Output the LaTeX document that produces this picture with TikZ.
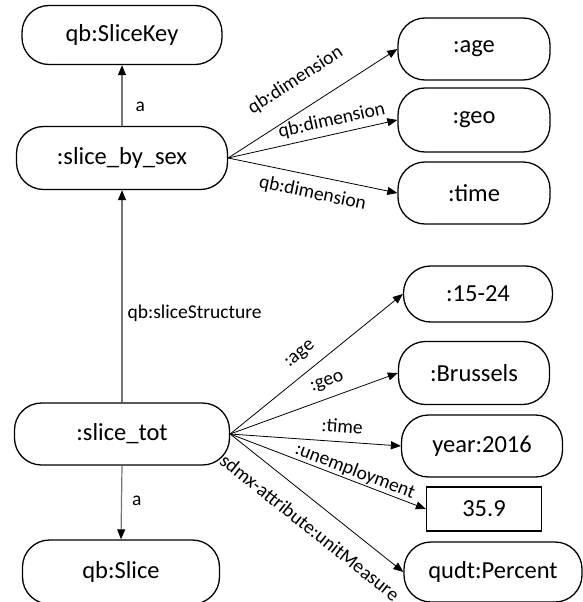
\documentclass[tikz,border=0pt]{standalone}
\usepackage{fontspec}
\setmainfont{Carlito}
\usetikzlibrary{arrows.meta}
\begin{document}
\begin{tikzpicture}[x=1pt,y=-1pt,
  ent/.style={draw, line width=1.3pt, rounded corners=27pt, inner sep=0pt,
              font=\fontsize{24.5}{29}\selectfont},
  lit/.style={draw, line width=1.3pt, inner sep=0pt,
              font=\fontsize{24.5}{29}\selectfont},
  rel/.style={line width=0.8pt, -{Triangle[length=10pt,width=8pt]}},
  typ/.style={line width=1.2pt, draw=black!55, -{Triangle[length=10pt,width=8pt,color=black]}},
  elbl/.style={font=\fontsize{19.5}{23}\selectfont, inner sep=0pt},
  slbl/.style={font=\fontsize{19.5}{23}\selectfont, sloped},
]
\useasboundingbox (0,0) rectangle (582,602);

% slice key and its dimensions
\node[ent, minimum width=200pt, minimum height=59pt] (key) at (122,35) {qb:SliceKey};
\node[ent, minimum width=211pt, minimum height=63pt] (sbs) at (122,158) {:slice\_by\_sex};
\node[ent, minimum width=152pt, minimum height=62pt] (age) at (474,49) {:age};
\node[ent, minimum width=152pt, minimum height=64pt] (geo) at (474,120) {:geo};
\node[ent, minimum width=152pt, minimum height=62pt] (time) at (474,193) {:time};

% slice and its observation values
\node[ent, minimum width=215pt, minimum height=62pt] (tot) at (122,434) {:slice\_tot};
\node[ent, minimum width=197pt, minimum height=64pt] (slice) at (121,572) {qb:Slice};
\node[ent, minimum width=149pt, minimum height=56pt] (v1524) at (478,294) {:15-24};
\node[ent, minimum width=151pt, minimum height=63pt] (bru) at (474,373) {:Brussels};
\node[ent, minimum width=161pt, minimum height=62pt] (year) at (482,446) {year:2016};
\node[lit, minimum width=115pt, minimum height=44pt] (val) at (484,509) {35.9};
\node[ent, minimum width=178pt, minimum height=60pt] (pct) at (493,572) {qudt:Percent};

% type and structure links
\draw[typ] (sbs.north) -- (key.south)
  node[elbl, pos=0.32, anchor=west, xshift=13pt] {a};
\draw[typ] (tot.north) -- (sbs.south)
  node[elbl, pos=0.42, anchor=west, xshift=5pt] {qb:sliceStructure};
\draw[typ] (tot.south) -- (slice.north)
  node[elbl, pos=0.48, anchor=west, xshift=10pt] {a};

% dimensions of the slice key
\draw[rel] (sbs.east) -- (age.west)
  node[slbl, pos=0.49, anchor=south, inner sep=20pt] {qb:dimension};
\draw[rel] (sbs.east) -- (geo.west)
  node[slbl, pos=0.63, anchor=south, inner sep=5pt] {qb:dimension};
\draw[rel] (sbs.east) -- (time.west)
  node[slbl, pos=0.52, anchor=north, inner sep=9pt] {qb:dimension};

% properties of the slice
\draw[rel] (tot.east) -- (v1524.west)
  node[slbl, pos=0.47, anchor=south, inner sep=10.5pt] {:age};
\draw[rel] (tot.east) -- (bru.west)
  node[slbl, pos=0.61, anchor=south, inner sep=8.2pt] {:geo};
\draw[rel] (tot.east) -- (year.west)
  node[slbl, pos=0.65, anchor=south, inner sep=8.3pt] {:time};
\draw[rel] (tot.east) -- (val.west)
  node[slbl, pos=0.62, anchor=south, inner sep=1pt] {:unemployment};
\draw[rel] (tot.east) -- (pct.west)
  node[slbl, pos=0.545, anchor=north, inner sep=16pt] {sdmx-attribute:unitMeasure};
\end{tikzpicture}
\end{document}
